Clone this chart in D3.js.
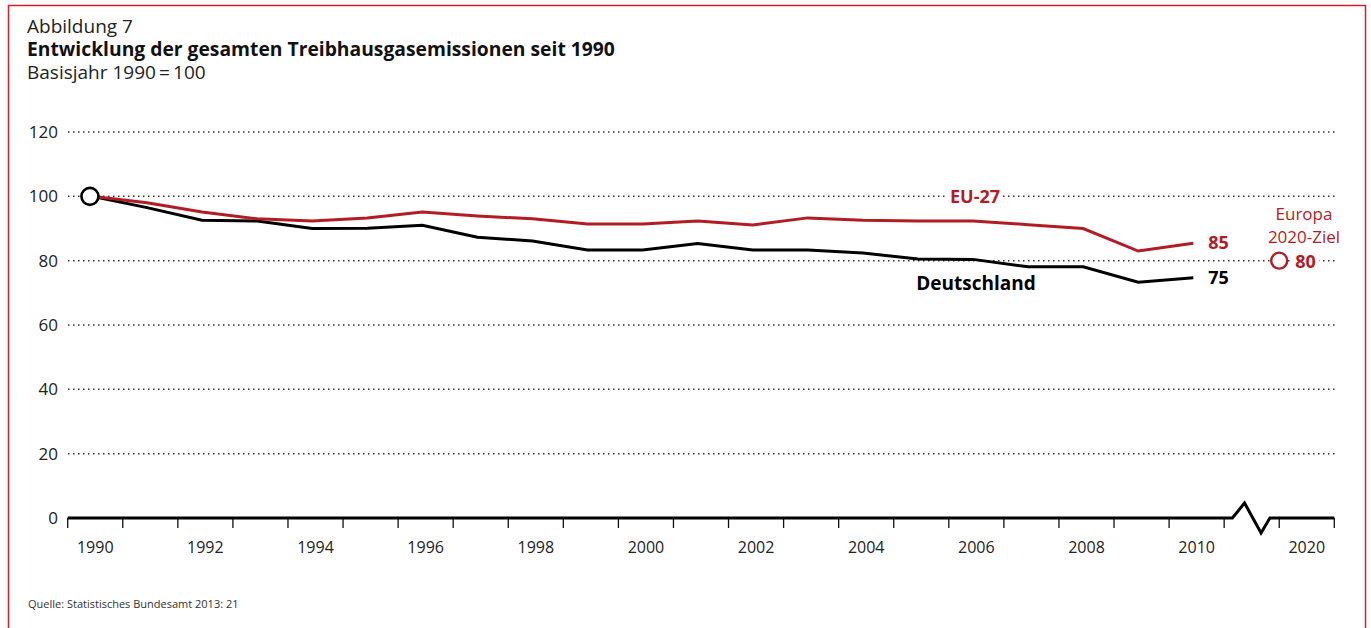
<!DOCTYPE html>
<html>
<head>
<meta charset="utf-8">
<script src="https://cdn.jsdelivr.net/npm/d3@7"></script>
<style>
  body { margin: 0; background: #fff; }
  svg { display: block; font-family: "Open Sans", "Noto Sans", sans-serif; }
</style>
</head>
<body>
<svg id="chart" width="1371" height="628"></svg>
<script>
const years = d3.range(1990, 2011);
const eu27 = [100, 98, 95.1, 93, 92.3, 93.3, 95.1, 93.9, 93, 91.4, 91.4, 92.3, 91.1, 93.3, 92.6, 92.3, 92.3, 91.2, 90, 83, 85.4];
const deutschland = [100, 96.5, 92.6, 92.3, 90, 90.1, 91, 87.3, 86.1, 83.3, 83.3, 85.3, 83.3, 83.3, 82.4, 80.5, 80.4, 78.1, 78.1, 73.3, 74.7];
const targetYear = "2020";
const targetValue = 80;
const yTicks = [0, 20, 40, 60, 80, 100, 120];
const xCategories = years.map(String).concat(["break", targetYear]);
const xLabels = years.filter(y => y % 2 === 0).map(String).concat([targetYear]);

const red = "#b21c25";

const svg = d3.select("#chart");

// frame
svg.append("rect")
    .attr("x", 8.5).attr("y", 5.5)
    .attr("width", 1357).attr("height", 640)
    .attr("fill", "none")
    .attr("stroke", "#d0212f")
    .attr("stroke-width", 1.5);

// header
svg.append("text").attr("x", 27).attr("y", 33)
    .attr("font-size", 19).attr("font-weight", 400).attr("fill", "#222")
    .text("Abbildung 7");
svg.append("text").attr("x", 27).attr("y", 56)
    .attr("font-size", 19.3).attr("font-weight", "bold").attr("fill", "#111")
    .text("Entwicklung der gesamten Treibhausgasemissionen seit 1990");
svg.append("text").attr("x", 27).attr("y", 79)
    .attr("font-size", 19).attr("font-weight", 400).attr("fill", "#222")
    .text("Basisjahr 1990\u2009=\u2009100");

svg.append("text").attr("x", 28).attr("y", 608)
    .attr("font-size", 11).attr("fill", "#333")
    .text("Quelle: Statistisches Bundesamt 2013: 21");

const xScale = d3.scaleBand()
    .domain(xCategories)
    .range([67.7, 1334.3]);

const yScale = d3.scaleLinear()
    .domain([0, 120])
    .range([518, 132]);

const px = y => xScale(String(y)) + xScale.bandwidth() * 0.44;

// grid lines
svg.append("g").selectAll("line")
    .data(yTicks.filter(d => d > 0))
    .join("line")
    .attr("x1", 68).attr("x2", 1335)
    .attr("y1", d => yScale(d)).attr("y2", d => yScale(d))
    .attr("stroke", "#333")
    .attr("stroke-width", 1.5)
    .attr("stroke-dasharray", "1.5,3.5");

// y labels
svg.append("g").selectAll("text")
    .data(yTicks)
    .join("text")
    .attr("x", 58)
    .attr("y", d => yScale(d) + 6)
    .attr("text-anchor", "end")
    .attr("font-size", 17)
    .attr("font-weight", 400)
    .attr("fill", "#222")
    .text(d => d);

// x ticks at band edges
const tickXs = xCategories.map(c => xScale(c)).concat([xScale.range()[1]]);
svg.append("g").selectAll("line")
    .data(tickXs)
    .join("line")
    .attr("x1", d => d).attr("x2", d => d)
    .attr("y1", 518).attr("y2", 528)
    .attr("stroke", "#111")
    .attr("stroke-width", 1.3);

// x labels
svg.append("g").selectAll("text")
    .data(xLabels)
    .join("text")
    .attr("x", d => xScale(d) + xScale.bandwidth() / 2)
    .attr("y", 553)
    .attr("text-anchor", "middle")
    .attr("font-size", 16)
    .attr("font-weight", 400)
    .attr("fill", "#222")
    .text(d => d);

// zero line with break
const bx = xScale("break"), bw = xScale.bandwidth();
const axisPts = [
    [67.7, yScale(0)],
    [bx + bw * 0.15, yScale(0)],
    [bx + bw * 0.37, yScale(0) - 15],
    [bx + bw * 0.67, yScale(0) + 15],
    [bx + bw * 0.83, yScale(0)],
    [1334.3, yScale(0)]
];
svg.append("path")
    .attr("d", d3.line()(axisPts))
    .attr("fill", "none")
    .attr("stroke", "#000")
    .attr("stroke-width", 3)
    .attr("stroke-linejoin", "miter");

const line = d3.line()
    .x((d, i) => px(years[i]))
    .y(d => yScale(d));

svg.append("path")
    .datum(deutschland)
    .attr("d", line)
    .attr("fill", "none")
    .attr("stroke", "#000")
    .attr("stroke-width", 3);

svg.append("path")
    .datum(eu27)
    .attr("d", line)
    .attr("fill", "none")
    .attr("stroke", red)
    .attr("stroke-width", 3);

// base year marker
svg.append("circle")
    .attr("cx", px(1990) - 2)
    .attr("cy", yScale(100))
    .attr("r", 8.5)
    .attr("fill", "#fff")
    .attr("stroke", "#000")
    .attr("stroke-width", 2.6);

// target marker
svg.append("circle")
    .attr("cx", xScale(targetYear))
    .attr("cy", yScale(targetValue))
    .attr("r", 8)
    .attr("fill", "#fff")
    .attr("stroke", red)
    .attr("stroke-width", 2.4);

const label = (x, y, txt, color, opts = {}) => svg.append("text")
    .attr("x", x).attr("y", y)
    .attr("font-size", opts.size || 18)
    .attr("font-weight", opts.weight || "bold")
    .attr("text-anchor", opts.anchor || "start")
    .attr("fill", color)
    .attr("stroke", opts.halo ? "#fff" : "none")
    .attr("stroke-width", opts.halo ? 8 : 0)
    .attr("paint-order", "stroke")
    .text(txt);

label(975, yScale(100) + 7, "EU-27", red, {anchor: "middle", halo: true});
label(976, yScale(deutschland[16]) + 31, "Deutschland", "#000", {anchor: "middle", size: 19});
label(px(2010) + 15, yScale(eu27[20]) + 6, "85", red);
label(px(2010) + 15, yScale(deutschland[20]) + 6, "75", "#000");
label(xScale(targetYear) + 16, yScale(targetValue) + 7, "80", red, {halo: true});
label(1304, 220, "Europa", red, {anchor: "middle", weight: 400, size: 17});
label(1304, 243, "2020-Ziel", red, {anchor: "middle", weight: 400, size: 17});
</script>
</body>
</html>
